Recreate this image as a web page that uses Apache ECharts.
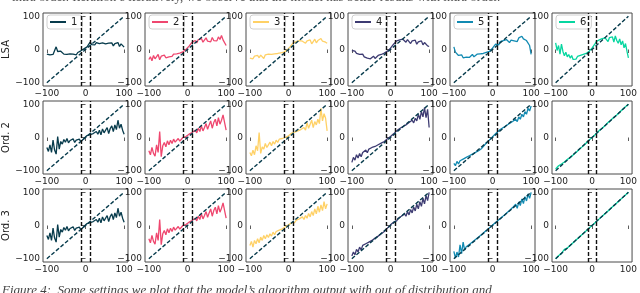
<!DOCTYPE html>
<html><head><meta charset="utf-8">
<script src="https://cdn.jsdelivr.net/npm/echarts@6/dist/echarts.min.js"></script>
<style>html,body{margin:0;padding:0;background:#fff;overflow:hidden}#c{width:640px;height:293px}</style>
</head><body><div id="c"></div><script>
// x positions of the samples
const xs = [-100,-96,-92,-88,-84,-80,-76,-72,-68,-64,-60,-56,-52,-48,-44,-40,-36,-32,-28,-24,-20,-16,-12,-8,-4,0,4,8,12,16,20,24,28,32,36,40,44,48,52,56,60,64,68,72,76,80,84,88,92,96,100];
const tickVals = [-100, 0, 100];
const rowNames = ['LSA', 'Ord. 2', 'Ord. 3'];
const seriesNames = ['1', '2', '3', '4', '5', '6'];
const colors = ['#073b4c', '#ef476f', '#ffd166', '#3d3b72', '#118ab2', '#06d6a0'];
const thresholds = [-11, 11];
const diagonal = [-100, 100];

// Row 1: LSA
const lsa1 = [-14,-12,-16,-13,-15,-11,8,-6,-12,-5,-9,-14,-10,-15,-9,-13,-8,-14,-11,-16,-9,-12,-4,-6,2,5,8,14,22,15,19,14,21,16,18,13,20,15,17,12,19,14,20,11,18,15,21,9,17,12,7];
const lsa2 = [-30,-22,-34,-18,-28,-24,-15,-31,-20,-26,-17,-25,-19,-22,-16,-21,-14,-19,-13,-17,-11,-12,-7,-4,0,5,10,16,22,18,27,20,30,24,33,22,28,35,25,31,23,36,27,32,26,38,30,42,29,24,12];
const lsa3 = [-26,-22,-28,-20,-24,-18,-25,-17,-22,-27,-16,-21,-14,-19,-15,-20,-13,-17,-12,-15,-10,-13,-8,-5,-2,3,8,14,20,16,24,18,27,21,25,30,19,26,22,29,17,24,31,20,27,23,33,25,28,22,19];
const lsa4 = [-3,-8,-5,-12,-9,-15,-18,-14,-22,-19,-26,-21,-28,-24,-20,-27,-22,-18,-23,-15,-17,-11,-8,-5,-1,4,10,16,22,26,20,29,25,31,27,22,30,24,18,26,21,28,16,23,19,26,14,21,17,11,9];
const lsa5 = [8,-8,-12,-18,-22,-16,-25,-19,-23,-17,-24,-20,-15,-22,-18,-14,-20,-13,-17,-12,-14,-9,-11,-6,-3,4,9,16,20,14,24,19,27,22,30,25,21,28,33,26,31,24,35,29,40,32,36,27,30,12,-15];
const lsa6 = [20,-3,12,-14,16,-6,-19,-8,-22,-15,-26,-18,-30,-24,-29,-21,-26,-18,-22,-15,-17,-12,-9,-5,-2,4,10,17,24,20,29,26,33,28,35,31,24,36,30,38,22,41,27,19,32,14,26,5,18,-5,-25];

// Row 2: Ord. 2
const ord2_1 = [-30,-42,-22,-45,-8,-38,-50,3,-35,-12,-20,-6,-14,-3,-16,-9,-12,-4,-15,-8,-11,-5,-13,-7,-3,2,6,4,9,3,12,7,18,10,22,8,26,14,20,30,12,27,35,18,38,24,52,28,40,22,10];
const ord2_2 = [-40,-52,-30,-48,-56,-22,-45,18,-58,-25,-15,-28,-10,-22,-8,-18,-5,-14,-9,-3,-11,-6,0,-4,3,6,10,8,15,11,22,14,28,18,35,20,30,42,25,38,50,28,45,55,35,60,40,52,68,45,22];
const ord2_3 = [-45,-55,-38,-52,-25,-40,15,-48,-28,-35,-18,-30,-22,-14,-25,-12,-20,-8,-15,-5,-10,-3,-7,0,2,5,9,13,8,16,12,20,14,24,18,30,22,45,28,40,52,30,48,38,55,42,88,50,72,58,20];
const ord2_4 = [-75,-60,-68,-52,-62,-48,-58,-45,-50,-38,-46,-35,-40,-30,-36,-27,-31,-22,-26,-17,-20,-12,-9,-4,-1,3,7,11,15,20,18,27,24,33,28,38,34,45,40,52,44,58,50,70,55,78,62,90,60,85,30];
const ord2_5 = [-78,-85,-72,-80,-70,-75,-65,-70,-60,-63,-55,-58,-50,-52,-45,-42,-40,-35,-33,-28,-22,-18,-12,-8,-3,2,7,10,16,18,24,22,30,28,36,32,42,38,48,42,55,48,62,55,70,62,78,70,88,80,95];
const ord2_6 = [-95,-92,-85,-90,-80,-82,-74,-78,-66,-66,-61,-55,-53,-47,-45,-39,-37,-31,-29,-23,-21,-16,-12,-8,-4,0,4,8,12,16,21,24,28,33,36,40,45,48,53,56,61,64,68,73,76,80,85,88,93,96,100];

// Row 3: Ord. 3
const ord3_1 = ord2_1;
const ord3_2 = ord2_2;
const ord3_3 = [-60,-48,-65,-45,-55,-40,-52,-35,-45,-30,-40,-28,-36,-25,-32,-20,-28,-18,-22,-14,-16,-10,-8,-4,-1,2,5,8,12,9,16,12,20,15,26,18,30,22,36,26,42,30,50,35,58,40,62,45,72,50,65];
const ord3_4 = [-92,-80,-88,-72,-80,-65,-74,-60,-66,-55,-60,-50,-54,-45,-48,-38,-42,-32,-35,-25,-28,-18,-12,-8,-3,2,6,10,15,14,22,18,28,22,35,28,42,32,48,38,56,44,64,50,72,58,82,65,90,75,100];
const ord3_5 = [-78,-98,-80,-95,-58,-85,-50,-74,-64,-62,-57,-56,-50,-48,-42,-41,-35,-33,-27,-25,-19,-17,-11,-9,-3,-1,5,7,13,15,21,23,29,31,37,39,45,47,54,58,64,52,71,60,80,66,87,74,95,82,100];
const ord3_6 = [-100,-97,-91,-88,-84,-79,-72,-72,-68,-64,-60,-56,-52,-48,-44,-40,-36,-32,-28,-24,-20,-16,-12,-8,-4,0,4,8,12,16,20,24,28,32,36,40,44,48,52,56,60,64,68,72,76,80,84,88,92,96,100];

const rows = [
  [lsa1, lsa2, lsa3, lsa4, lsa5, lsa6],
  [ord2_1, ord2_2, ord2_3, ord2_4, ord2_5, ord2_6],
  [ord3_1, ord3_2, ord3_3, ord3_4, ord3_5, ord3_6]
];

const colLeft = [43, 145, 246, 348, 450, 552];
const rowTop = [13, 101, 189];
const W = 85, H = 73;
const FONT = 'DejaVu Sans';
const fmt = v => (v < 0 ? '\u2212' + Math.abs(v) : String(v));

const grids = [], xAxes = [], yAxes = [], series = [], legends = [];
rows.forEach((row, r) => {
  row.forEach((ys, c) => {
    const k = grids.length;
    grids.push({left: colLeft[c], top: rowTop[r], width: W, height: H, show: true,
      borderColor: '#4a4a4a', borderWidth: 1, backgroundColor: 'transparent', containLabel: false});
    const axisCommon = {gridIndex: k, type: 'value', min: -110, max: 110,
      splitLine: {show: false}, axisLine: {show: false},
      axisTick: {show: true, length: 3.5, inside: false, customValues: tickVals, lineStyle: {color: '#333', width: 0.8}},
      axisLabel: {customValues: tickVals, fontSize: 9, color: '#222', fontFamily: FONT, margin: 3, formatter: fmt}};
    xAxes.push(Object.assign({}, axisCommon, {position: 'bottom'}));
    const ya = Object.assign({}, axisCommon, {position: 'left'});
    if (c === 0) {
      ya.name = rowNames[r]; ya.nameLocation = 'middle'; ya.nameGap = 25; ya.nameRotate = 90;
      ya.nameTextStyle = {fontSize: 10, color: '#222', fontFamily: FONT};
    }
    yAxes.push(ya);
    const name = r === 0 ? seriesNames[c] : 'r' + r + 'c' + c;
    series.push({type: 'line', name: name, xAxisIndex: k, yAxisIndex: k, showSymbol: false, symbol: 'none',
      data: xs.map((x, i) => [x, ys[i]]), color: colors[c],
      lineStyle: {color: colors[c], width: 1.3}, z: 2, animation: false});
    series.push({type: 'line', name: 'diag' + k, xAxisIndex: k, yAxisIndex: k, showSymbol: false, symbol: 'none',
      data: diagonal.map(v => [v, v]), lineStyle: {color: '#073b4c', width: 1.4, type: [4, 2]}, z: 4, animation: false,
      markLine: {silent: true, symbol: 'none', animation: false, label: {show: false},
        lineStyle: {color: '#111', width: 1.4, type: [4, 2]},
        data: thresholds.map(v => ({xAxis: v}))}});
    if (r === 0) {
      legends.push({data: [name], left: colLeft[c] + 4, top: rowTop[r] + 2, selectedMode: false,
        icon: 'rect', itemWidth: 16, itemHeight: 2, itemGap: 4, padding: [2, 5, 2, 3],
        borderColor: '#d0d0d0', borderWidth: 1, borderRadius: 3, backgroundColor: 'rgba(255,255,255,0.85)',
        textStyle: {fontSize: 10, color: '#222', fontFamily: FONT}});
    }
  });
});

const chart = echarts.init(document.getElementById('c'), null, {renderer: 'canvas'});
chart.setOption({
  animation: false,
  grid: grids, xAxis: xAxes, yAxis: yAxes, series: series, legend: legends,
  graphic: [
    {type: 'text', left: 12, top: -9, style: {text: 'intra order. Iteration\u2019s iteratively, we observe that the model has better results with intra order.', font: '13px "Liberation Serif", serif', fill: '#555'}},
    {type: 'text', left: 2, top: 284, style: {text: 'Figure 4:  Some settings we plot that the model\u2019s algorithm output with out of distribution and', font: 'italic 13px "Liberation Serif", serif', fill: '#444'}}
  ]
});
</script></body></html>
